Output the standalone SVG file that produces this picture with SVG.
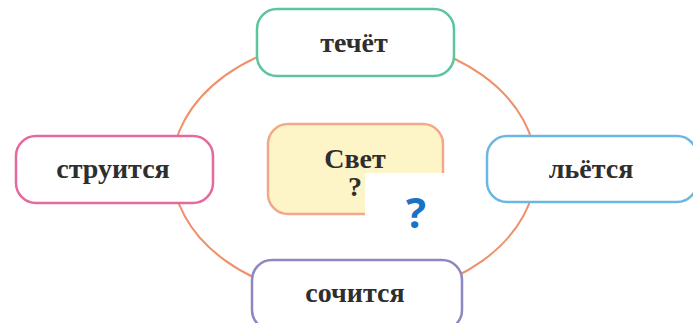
<svg xmlns="http://www.w3.org/2000/svg" width="693" height="323" viewBox="0 0 693 323">
<style>
.box{fill:#ffffff;stroke-width:2.5}
.lbl{font-family:"Liberation Serif","DejaVu Serif",serif;font-weight:bold;font-size:28px;fill:#2e2e2e;text-anchor:middle}
.conn{fill:none;stroke:#f0906a;stroke-width:2}
</style>
<rect width="693" height="323" fill="#ffffff"/>
<g id="connectors">
<ellipse class="conn" cx="354" cy="168" rx="182" ry="131"/>
</g>
<g id="center">
<rect x="268" y="124" width="175" height="90" rx="20" fill="#fdf4c8" stroke="#f2a88a" stroke-width="2.5"/>
<text class="lbl" x="355" y="168">Свет</text>
<text class="lbl" x="355" y="196">?</text>
</g>
<g id="top">
<rect class="box" x="257" y="9" width="197" height="67" rx="20" stroke="#5ec49c"/>
<text class="lbl" x="354" y="52">течёт</text>
</g>
<g id="left">
<rect class="box" x="16" y="136" width="197" height="67" rx="20" stroke="#e46a9e"/>
<text class="lbl" x="113" y="178">струится</text>
</g>
<g id="right">
<rect class="box" x="487" y="136" width="210" height="66" rx="20" stroke="#6cb6e2"/>
<text class="lbl" x="591" y="178">льётся</text>
</g>
<g id="bottom">
<rect class="box" x="252" y="260" width="210" height="70" rx="20" stroke="#8c88c2"/>
<text class="lbl" x="355" y="302">сочится</text>
</g>
<g id="overlay">
<rect x="365" y="173" width="82" height="62" fill="#ffffff"/>
<text x="416" y="228" font-family="'Open Sans','DejaVu Sans',sans-serif" font-weight="bold" font-size="42" fill="#1a72c4" text-anchor="middle">?</text>
</g>
</svg>
